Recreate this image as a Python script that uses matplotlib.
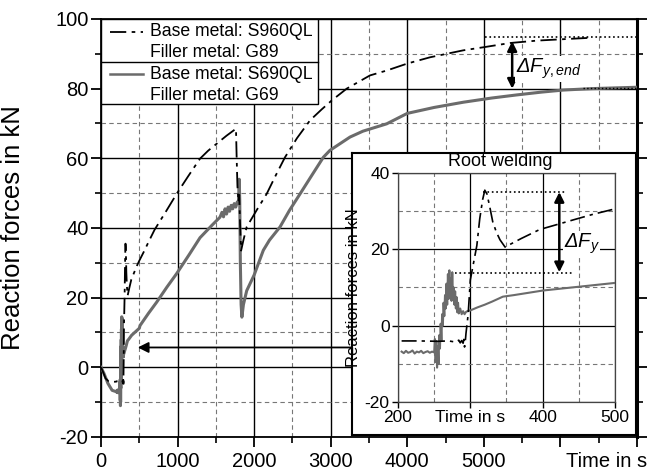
import numpy as np
import matplotlib
matplotlib.use('Agg')
import matplotlib.pyplot as plt
from matplotlib.patches import Rectangle

plt.rcParams['font.family'] = 'Liberation Sans'
plt.rcParams['mathtext.fontset'] = 'custom'
plt.rcParams['mathtext.rm'] = 'Liberation Sans'
plt.rcParams['mathtext.it'] = 'Liberation Sans:italic'
plt.rcParams['axes.unicode_minus'] = False

#%% data
# S960QL / G89 (dash-dot), start of the weld
t960_a = [0, 30, 60, 100, 150, 200]
f960_a = [0, -1.5, -3.2, -4.0, -4.2, -4.1]
# root welding window (also used for the inset)
t960_r = [205, 230, 255, 270, 280, 284, 286, 288, 290, 291, 292, 293, 294, 297, 300, 305,
          309, 313, 317, 320, 323, 327, 331, 336, 341, 348, 355, 370, 396, 420, 442, 470, 500]
f960_r = [-4.0, -4.0, -4.1, -4.0, -4.3, -3.8, -4.5, -3.9, -4.6, -3.6, -5.6, -4.2, -2.0, 3.0, 12.0, 17.0,
          21.0, 28.0, 33.0, 35.5, 34.5, 31.0, 27.2, 24.5, 22.5, 20.6, 21.3, 22.8, 25.2, 26.5, 27.7, 29.2, 30.6]
# rest of the test
t960_c = [560, 630, 700, 850, 988, 1140, 1293, 1400, 1511, 1640, 1763, 1772, 1782, 1795, 1805, 1815,
          1830, 1860, 1903, 2030, 2164, 2280, 2403, 2560, 2730, 2880, 3013, 3209, 3513, 3731, 4000,
          4297, 4731, 5000, 5341, 5700, 6125, 6400]
f960_c = [33.2, 36.4, 39.5, 44.8, 49.8, 54.9, 59.9, 62.2, 64.2, 66.5, 68.5, 60.0, 52.0, 47.5, 49.5, 42.0,
          33.5, 36.5, 40.3, 45.0, 49.8, 55.0, 60.3, 65.8, 70.9, 74.0, 76.6, 80.0, 83.8, 85.2, 87.2,
          89.0, 91.0, 91.9, 93.1, 93.8, 94.3, 94.6]

# S690QL / G69 (grey solid)
t690_a = [0, 40, 90, 145, 200]
f690_a = [0, -1.8, -4.6, -6.6, -7.0]
t690_r = [205, 208, 211, 214, 217, 220, 223, 226, 229, 232, 235, 238, 241, 244, 247, 250,
          251, 252, 253, 254, 255, 256, 257, 258, 259, 260, 261, 262, 263, 264, 265, 266, 267,
          268, 269, 270, 271, 272, 273, 274, 275, 276, 277, 278, 279, 280, 281, 282, 283, 284,
          286, 288, 290, 292, 294, 296, 300, 310, 320, 330, 345, 360, 380, 400, 425, 450, 475, 500]
f690_r = [-6.8, -7.2, -6.6, -7.1, -6.9, -6.5, -7.3, -6.8, -7.0, -6.6, -7.2, -6.9, -6.7, -7.1, -6.8, -7.0,
          -3.5, -9.5, -4.0, -11.0, -5.5, -10.0, -2.5, -6.0, 0.5, -4.0, 3.0, 0.0, 6.0, 2.5, 8.0, 4.5, 11.0,
          5.5, 13.5, 7.0, 14.5, 8.0, 12.5, 6.5, 14.0, 7.5, 10.0, 5.5, 9.0, 4.5, 7.5, 3.5, 6.0, 3.2,
          4.5, 3.0, 3.8, 3.0, 3.6, 3.8, 4.0, 4.8, 5.5, 6.3, 7.6, 8.0, 8.6, 9.2, 9.7, 10.2, 10.7, 11.2]
t690_c = [510, 620, 727, 860, 988, 1150, 1293, 1450, 1554, 1580, 1600, 1620, 1640, 1660, 1680, 1700,
          1720, 1740, 1760, 1780, 1795, 1805, 1812, 1820, 1830, 1840, 1860, 1903, 2000, 2120, 2200,
          2338, 2460, 2600, 2750, 2904, 2991, 3252, 3422, 3731, 4000, 4350, 4731, 5100, 5430, 5750,
          6040, 6400, 6690, 7000]
f690_c = [12.0, 15.5, 18.7, 23.0, 26.9, 32.3, 37.2, 40.8, 43.1, 44.5, 43.2, 45.5, 44.0, 46.0, 44.8, 46.5,
          45.5, 47.0, 46.0, 47.5, 47.0, 54.0, 48.0, 30.0, 18.0, 14.4, 18.0, 22.0, 26.5, 33.6, 36.5,
          40.3, 45.0, 49.8, 55.0, 60.3, 62.3, 66.1, 67.8, 69.9, 72.9, 74.6, 76.1, 77.3, 78.2, 79.0,
          79.6, 80.0, 80.2, 80.4]

t960 = t960_a + t960_r + t960_c
f960 = f960_a + f960_r + f960_c
t690 = t690_a + t690_r + t690_c
f690 = f690_a + f690_r + f690_c

grey = '#6b6b6b'
dashdot = (0, (9, 3, 2, 3))

#%% main plot
fig = plt.figure(figsize=(6.64, 4.71), dpi=100)
ax = fig.add_axes([0.1521, 0.0722, 0.8072, 0.8875])

ax.plot(t960, f960, color='k', lw=1.3, ls=dashdot, zorder=4)
ax.plot(t690, f690, color=grey, lw=2.2, zorder=3)

ax.set_xlim(0, 7000)
ax.set_ylim(-20, 100)
ax.set_xticks(np.arange(0, 7001, 1000))
ax.set_xticklabels(['0', '1000', '2000', '3000', '4000', '5000', '', ''])
ax.set_xticks(np.arange(500, 7000, 1000), minor=True)
ax.set_yticks(np.arange(-20, 101, 20))
ax.set_yticks(np.arange(-10, 100, 20), minor=True)
ax.grid(which='major', color='k', lw=1.0)
ax.grid(which='minor', color='#777777', lw=0.8, ls=(0, (4, 3)))
ax.set_axisbelow(True)
ax.tick_params(which='major', direction='out', length=7, width=1.3, labelsize=14.5, pad=2)
ax.tick_params(axis='x', which='major', pad=4)
ax.tick_params(which='minor', direction='out', length=4, width=1.2)
ax.tick_params(which='both', right=True)
for s in ['left', 'bottom', 'top']:
    ax.spines[s].set_linewidth(1.3)
ax.spines['right'].set_linewidth(2.2)
ax.set_ylabel('Reaction forces in kN', fontsize=18.5)
ax.yaxis.set_label_coords(-0.142, 0.5)
ax.text(0.944, -0.0586, 'Time in s', transform=ax.transAxes, fontsize=14.5,
        ha='center', va='center')

# delta F at the end of welding
ax.plot([5020, 7000], [94.8, 94.8], color='k', lw=1.2, ls=':', zorder=5)
ax.plot([6300, 7000], [80.2, 80.2], color='k', lw=1.0, ls=':', zorder=5)
ax.annotate('', xy=(5370, 93.6), xytext=(5370, 80.0),
            arrowprops=dict(arrowstyle='<|-|>', color='k', lw=1.8, mutation_scale=14,
                            shrinkA=0, shrinkB=0), zorder=6)
ax.text(5420, 84.5, r'ΔF$_{\mathit{y,end}}$', fontsize=14.5, style='italic', zorder=6,
        bbox=dict(facecolor='white', edgecolor='none', pad=0.5))

# arrow pointing from the inset to root welding
ax.annotate('', xy=(480, 5.7), xytext=(3400, 5.7),
            arrowprops=dict(arrowstyle='-|>', color='k', lw=1.3, mutation_scale=16,
                            shrinkA=0, shrinkB=0), zorder=6)

# legend box drawn by hand (handle on first text line, divider between entries)
ax.add_patch(Rectangle((0, 0.797), 0.405, 0.203, transform=ax.transAxes,
                       facecolor='white', edgecolor='k', lw=1.0, zorder=7))
ax.plot([0, 0.405], [0.897, 0.897], transform=ax.transAxes, color='k', lw=1.0, zorder=8)
ax.plot([0.017, 0.078], [0.969, 0.969], transform=ax.transAxes, color='k', lw=1.3,
        ls=dashdot, zorder=8)
ax.plot([0.017, 0.078], [0.868, 0.868], transform=ax.transAxes, color=grey, lw=1.8, zorder=8)
leg_txt = ['Base metal: S960QL', 'Filler metal: G89', 'Base metal: S690QL', 'Filler metal: G69']
for txt, yy in zip(leg_txt, [0.969, 0.921, 0.868, 0.818]):
    ax.text(0.091, yy, txt, transform=ax.transAxes, fontsize=12.7, va='center', zorder=8)

#%% inset: root welding
frame = fig.add_axes([0.5301, 0.0764, 0.4277, 0.5987])
frame.set_xticks([])
frame.set_yticks([])
for s in frame.spines.values():
    s.set_linewidth(1.5)
frame.set_zorder(10)

ax2 = fig.add_axes([0.5994, 0.1465, 0.3268, 0.4862])
ax2.set_zorder(11)
ax2.patch.set_alpha(0)
ax2.plot(t960_r, f960_r, color='k', lw=1.2, ls=dashdot, zorder=4)
ax2.plot(t690_r, f690_r, color=grey, lw=1.5, zorder=3)
ax2.set_xlim(200, 500)
ax2.set_ylim(-20, 40)
ax2.set_xticks([200, 300, 400, 500])
ax2.set_xticklabels(['200', 'Time in s', '400', '500'])
ax2.set_xticks([250, 350, 450], minor=True)
ax2.set_yticks([-20, 0, 20, 40])
ax2.set_yticks([-10, 10, 30], minor=True)
ax2.grid(which='major', color='k', lw=0.9)
ax2.grid(which='minor', color='#777777', lw=0.8, ls=(0, (4, 3)))
ax2.set_axisbelow(True)
ax2.tick_params(which='major', direction='out', length=4, width=1.0, labelsize=12.5, pad=2)
ax2.tick_params(which='minor', length=0)
for s in ax2.spines.values():
    s.set_linewidth(0.9)
    s.set_color('#444444')
ax2.set_ylabel('Reaction forces in kN', fontsize=12)
ax2.yaxis.set_label_coords(-0.17, 0.5)
ax2.text(0.47, 1.052, 'Root welding', transform=ax2.transAxes, fontsize=13,
         ha='center', va='center')

ax2.plot([318, 431], [35, 35], color='k', lw=1.2, ls=':', zorder=5)
ax2.plot([279, 440], [13.9, 13.9], color='k', lw=1.2, ls=':', zorder=5)
ax2.annotate('', xy=(423, 35), xytext=(423, 14),
             arrowprops=dict(arrowstyle='<|-|>', color='k', lw=1.8, mutation_scale=14,
                             shrinkA=0, shrinkB=0), zorder=6)
ax2.text(429, 20.3, r'ΔF$_{\mathit{y}}$', fontsize=14.5, style='italic', zorder=6,
         bbox=dict(facecolor='white', edgecolor='none', pad=0.5))

fig.savefig('out.png', dpi=100)
